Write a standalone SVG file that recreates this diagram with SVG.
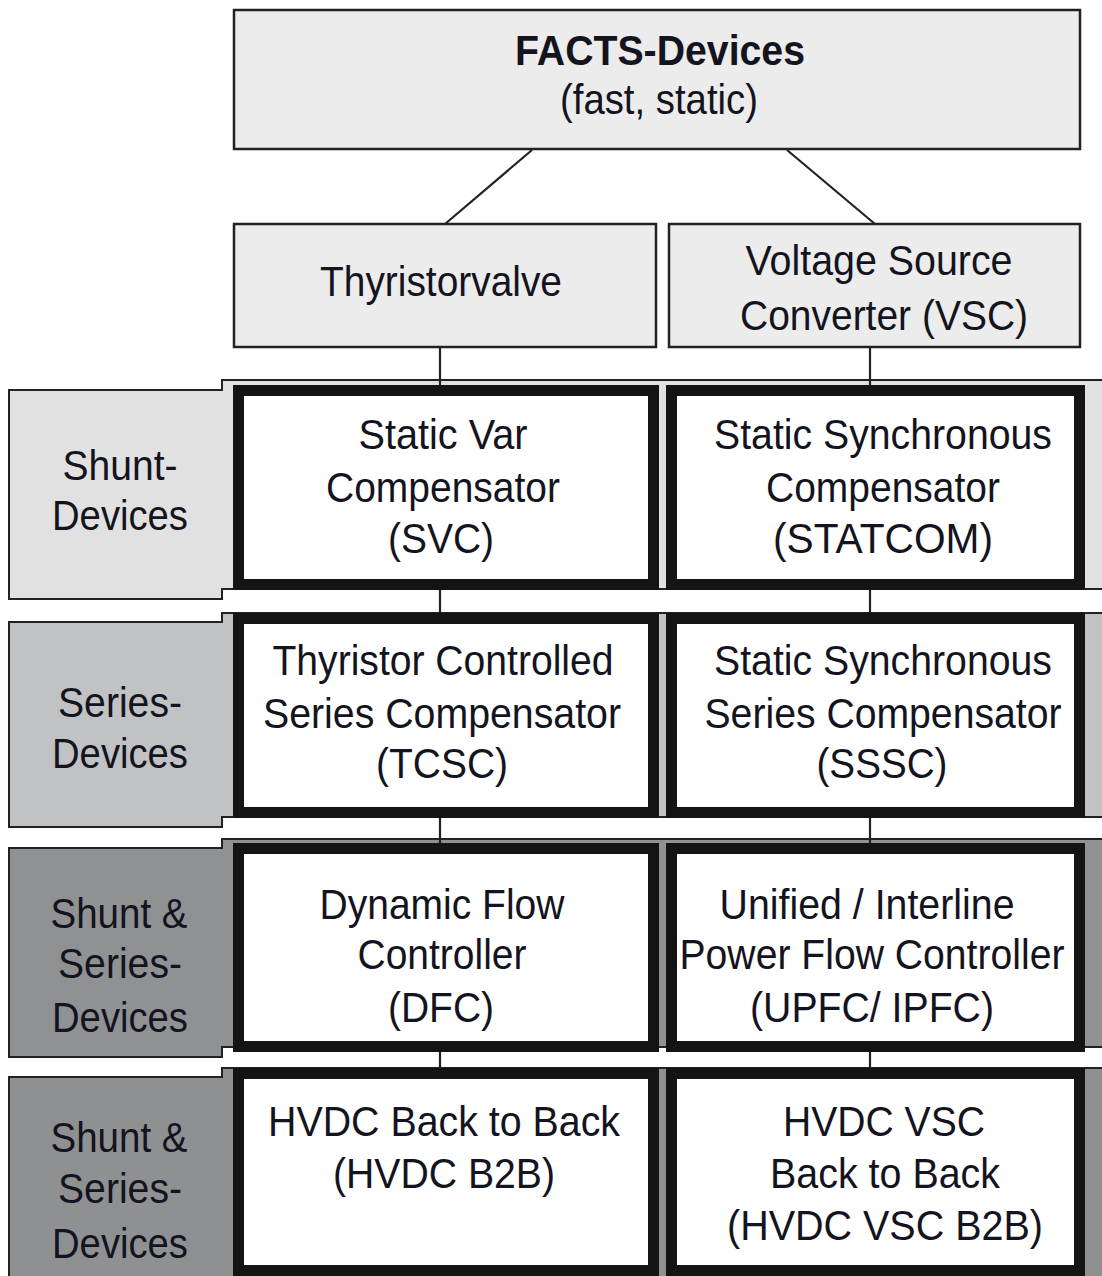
<svg xmlns="http://www.w3.org/2000/svg" width="1102" height="1276" viewBox="0 0 1102 1276">
  <style>
    text { font-family: "Liberation Sans", Arial, sans-serif; font-size: 42px; fill: #141420; text-anchor: middle; }
    .bold { font-weight: bold; }
    .head { fill: #ebeceb; stroke: #222; stroke-width: 2.5; }
    .dev { fill: #ffffff; stroke: #141414; stroke-width: 11; }
    .band { stroke: #222; stroke-width: 2; }
    .wire { stroke: #222; stroke-width: 2.2; fill: none; }
    .r1 { fill: #e1e1e1; }
    .r2 { fill: #c1c2c4; }
    .r3 { fill: #909193; }
    .r4 { fill: #8f9092; }
  </style>
  <rect width="1102" height="1276" fill="#ffffff"/>

  <!-- row backgrounds: category label on the left, shaded band behind the device boxes -->
  <g id="row-bands">
    <path class="band r1" d="M1106,380 H222 V390 H9 V599 H222 V589 H1106"/>
    <path class="band r2" d="M1106,613 H222 V622 H9 V827 H222 V817 H1106"/>
    <path class="band r3" d="M1106,839 H222 V848 H9 V1057 H222 V1047 H1106"/>
    <path class="band r4" d="M1106,1068 H222 V1077 H9 V1290 H222 V1290 H1106"/>
  </g>

  <g id="connectors">
    <line class="wire" x1="532" y1="150" x2="445" y2="224"/>
    <line class="wire" x1="787" y1="150" x2="875" y2="224"/>
    <line class="wire" x1="440" y1="348" x2="440" y2="1070"/>
    <line class="wire" x1="870" y1="348" x2="870" y2="1070"/>
  </g>

  <g id="facts-devices">
    <rect class="head" x="234" y="10" width="846" height="139"/>
    <text class="bold" x="660" y="65" textLength="290" lengthAdjust="spacingAndGlyphs">FACTS-Devices</text>
    <text x="659" y="114" textLength="198" lengthAdjust="spacingAndGlyphs">(fast, static)</text>
  </g>

  <g id="thyristorvalve">
    <rect class="head" x="234" y="224" width="422" height="123"/>
    <text x="441" y="296" textLength="242" lengthAdjust="spacingAndGlyphs">Thyristorvalve</text>
  </g>

  <g id="vsc">
    <rect class="head" x="669" y="224" width="411" height="123"/>
    <text x="879" y="275" textLength="267" lengthAdjust="spacingAndGlyphs">Voltage Source</text>
    <text x="884" y="330" textLength="288" lengthAdjust="spacingAndGlyphs">Converter (VSC)</text>
  </g>

  <!-- category labels -->
  <g id="label-shunt">
    <text x="120" y="480" textLength="115" lengthAdjust="spacingAndGlyphs">Shunt-</text>
    <text x="120" y="530" textLength="136" lengthAdjust="spacingAndGlyphs">Devices</text>
  </g>
  <g id="label-series">
    <text x="120" y="717" textLength="124" lengthAdjust="spacingAndGlyphs">Series-</text>
    <text x="120" y="768" textLength="136" lengthAdjust="spacingAndGlyphs">Devices</text>
  </g>
  <g id="label-shunt-series-1">
    <text x="119" y="928" textLength="137" lengthAdjust="spacingAndGlyphs">Shunt &amp;</text>
    <text x="120" y="978" textLength="124" lengthAdjust="spacingAndGlyphs">Series-</text>
    <text x="120" y="1032" textLength="136" lengthAdjust="spacingAndGlyphs">Devices</text>
  </g>
  <g id="label-shunt-series-2">
    <text x="119" y="1152" textLength="137" lengthAdjust="spacingAndGlyphs">Shunt &amp;</text>
    <text x="120" y="1203" textLength="124" lengthAdjust="spacingAndGlyphs">Series-</text>
    <text x="120" y="1258" textLength="136" lengthAdjust="spacingAndGlyphs">Devices</text>
  </g>

  <!-- device boxes -->
  <g id="svc">
    <rect class="dev" x="238.5" y="390.5" width="415" height="194"/>
    <text x="443" y="449" textLength="169" lengthAdjust="spacingAndGlyphs">Static Var</text>
    <text x="443" y="502" textLength="234" lengthAdjust="spacingAndGlyphs">Compensator</text>
    <text x="441" y="553" textLength="106" lengthAdjust="spacingAndGlyphs">(SVC)</text>
  </g>
  <g id="statcom">
    <rect class="dev" x="671.5" y="390.5" width="408" height="194"/>
    <text x="883" y="449" textLength="338" lengthAdjust="spacingAndGlyphs">Static Synchronous</text>
    <text x="883" y="502" textLength="234" lengthAdjust="spacingAndGlyphs">Compensator</text>
    <text x="883" y="553" textLength="220" lengthAdjust="spacingAndGlyphs">(STATCOM)</text>
  </g>
  <g id="tcsc">
    <rect class="dev" x="238.5" y="618.5" width="415" height="194"/>
    <text x="443" y="675" textLength="341" lengthAdjust="spacingAndGlyphs">Thyristor Controlled</text>
    <text x="442" y="728" textLength="358" lengthAdjust="spacingAndGlyphs">Series Compensator</text>
    <text x="442" y="778" textLength="132" lengthAdjust="spacingAndGlyphs">(TCSC)</text>
  </g>
  <g id="sssc">
    <rect class="dev" x="671.5" y="618.5" width="408" height="194"/>
    <text x="883" y="675" textLength="338" lengthAdjust="spacingAndGlyphs">Static Synchronous</text>
    <text x="883" y="728" textLength="357" lengthAdjust="spacingAndGlyphs">Series Compensator</text>
    <text x="882" y="778" textLength="131" lengthAdjust="spacingAndGlyphs">(SSSC)</text>
  </g>
  <g id="dfc">
    <rect class="dev" x="238.5" y="848.5" width="415" height="198"/>
    <text x="442" y="919" textLength="245" lengthAdjust="spacingAndGlyphs">Dynamic Flow</text>
    <text x="442" y="969" textLength="169" lengthAdjust="spacingAndGlyphs">Controller</text>
    <text x="441" y="1022" textLength="106" lengthAdjust="spacingAndGlyphs">(DFC)</text>
  </g>
  <g id="upfc-ipfc">
    <rect class="dev" x="671.5" y="848.5" width="408" height="198"/>
    <text x="867" y="919" textLength="295" lengthAdjust="spacingAndGlyphs">Unified / Interline</text>
    <text x="872" y="969" textLength="385" lengthAdjust="spacingAndGlyphs">Power Flow Controller</text>
    <text x="872" y="1022" textLength="244" lengthAdjust="spacingAndGlyphs">(UPFC/ IPFC)</text>
  </g>
  <g id="hvdc-b2b">
    <rect class="dev" x="238.5" y="1073.5" width="415" height="197"/>
    <text x="444" y="1136" textLength="352" lengthAdjust="spacingAndGlyphs">HVDC Back to Back</text>
    <text x="444" y="1188" textLength="222" lengthAdjust="spacingAndGlyphs">(HVDC B2B)</text>
  </g>
  <g id="hvdc-vsc-b2b">
    <rect class="dev" x="671.5" y="1073.5" width="408" height="197"/>
    <text x="884" y="1136" textLength="202" lengthAdjust="spacingAndGlyphs">HVDC VSC</text>
    <text x="885" y="1188" textLength="230" lengthAdjust="spacingAndGlyphs">Back to Back</text>
    <text x="885" y="1240" textLength="316" lengthAdjust="spacingAndGlyphs">(HVDC VSC B2B)</text>
  </g>
</svg>
